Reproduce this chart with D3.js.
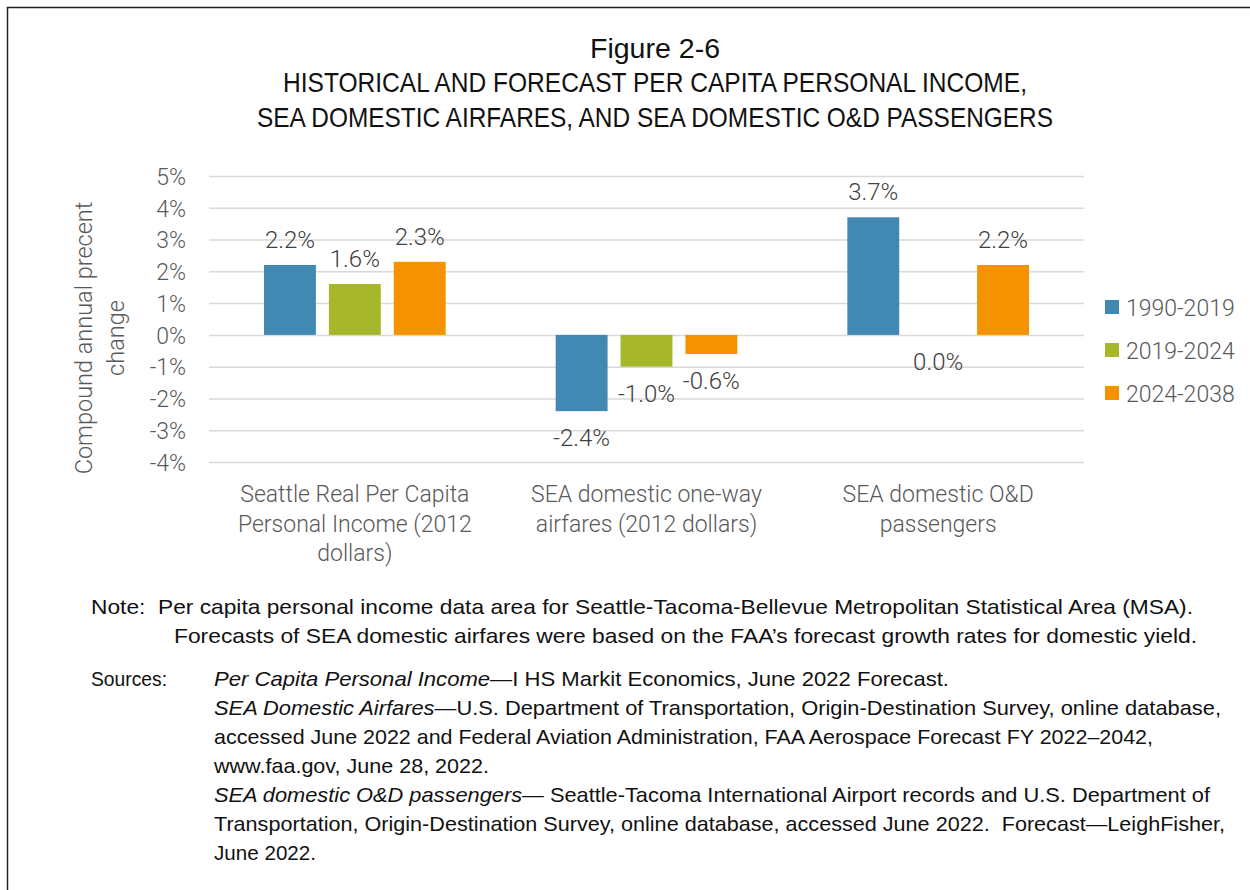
<!DOCTYPE html>
<html><head><meta charset="utf-8">
<script src="https://cdn.jsdelivr.net/npm/d3@7"></script>
<style>
html,body{margin:0;padding:0;background:#fff;}
svg{display:block;}
</style></head>
<body>
<svg id="chart" width="1250" height="890"></svg>
<script>
const categories = [
  ["Seattle Real Per Capita", "Personal Income (2012", "dollars)"],
  ["SEA domestic one-way", "airfares (2012 dollars)"],
  ["SEA domestic O&D", "passengers"]
];
const seriesNames = ["1990-2019", "2019-2024", "2024-2038"];
const s1990_2019 = [2.2, -2.4, 3.7];
const s2019_2024 = [1.6, -1.0, 0.0];
const s2024_2038 = [2.3, -0.6, 2.2];
const yTicks = [5, 4, 3, 2, 1, 0, -1, -2, -3, -4];
const colors = ["#4189B3", "#A6B829", "#F59200"];

const titleLines = ["Figure 2-6",
  "HISTORICAL AND FORECAST PER CAPITA PERSONAL INCOME,",
  "SEA DOMESTIC AIRFARES, AND SEA DOMESTIC O&D PASSENGERS"];

const seriesValues = [s1990_2019, s2019_2024, s2024_2038];

const svg = d3.select("#chart");
svg.append("rect").attr("x", 7.5).attr("y", 7.5).attr("width", 1300).attr("height", 1000)
  .attr("fill", "none").attr("stroke", "#222").attr("stroke-width", 1.5);

const narrow = "'Liberation Sans', Arial, sans-serif";
const chartFont = "Roboto, 'Open Sans', sans-serif";
const chartWeight = 300;

// title
const titleY = [58, 92, 127];
const titleW = [130, 744, 796];
titleLines.forEach((t, i) => {
  svg.append("text").attr("x", 655).attr("y", titleY[i]).attr("text-anchor", "middle")
    .attr("font-family", narrow).attr("font-size", 28).attr("fill", "#111")
    .attr("textLength", titleW[i]).attr("lengthAdjust", "spacingAndGlyphs")
    .text(t);
});

// scales
const x0 = d3.scaleBand().domain(d3.range(categories.length)).range([209, 1084]);
const x1 = d3.scaleBand().domain(d3.range(seriesNames.length)).range([55, x0.bandwidth() - 55]).paddingInner(0.2);
const y = d3.scaleLinear().domain([-4, 5]).range([462, 176]);

// grid + ticks
const yAxis = d3.axisLeft(y).tickValues(yTicks).tickSize(-(1084 - 209)).tickFormat(d => d + "%");
const gAxis = svg.append("g").attr("transform", "translate(209,0)").call(yAxis);
gAxis.select(".domain").remove();
gAxis.selectAll(".tick line").attr("stroke", "#d9d9d9").attr("stroke-width", 1.5);
gAxis.selectAll(".tick text").attr("x", -23).attr("dy", "0.36em").attr("font-family", chartFont)
  .attr("font-weight", chartWeight).attr("font-size", 23).attr("fill", "#595959");

// bars
const groups = svg.append("g").selectAll("g").data(categories).join("g")
  .attr("transform", (d, i) => `translate(${x0(i)},0)`);
groups.each(function (c, ci) {
  const g = d3.select(this);
  seriesValues.forEach((vals, si) => {
    const v = vals[ci];
    if (v !== 0) {
      g.append("rect").attr("x", x1(si)).attr("width", x1.bandwidth())
        .attr("y", y(Math.max(0, v))).attr("height", Math.abs(y(v) - y(0)))
        .attr("fill", colors[si]);
    }
    const ly = v > 0 ? y(v) - 17 : y(v) + 35;
    g.append("text").attr("x", x1(si) + x1.bandwidth() / 2).attr("y", ly)
      .attr("text-anchor", "middle").attr("font-family", chartFont).attr("font-weight", chartWeight)
      .attr("font-size", 24).attr("fill", "#404040").text(v.toFixed(1) + "%");
  });
});

// category labels
categories.forEach((lines, i) => {
  lines.forEach((l, j) => {
    svg.append("text").attr("x", x0(i) + x0.bandwidth() / 2).attr("y", 502 + j * 29.5)
      .attr("text-anchor", "middle").attr("font-family", chartFont).attr("font-weight", chartWeight)
      .attr("font-size", 23).attr("fill", "#595959").text(l);
  });
});

// y axis title
const yt = svg.append("text").attr("transform", "rotate(-90)")
  .attr("font-family", chartFont).attr("font-weight", chartWeight).attr("font-size", 23.5)
  .attr("fill", "#595959").attr("text-anchor", "middle");
yt.append("tspan").attr("x", -338).attr("y", 92).text("Compound annual precent");
yt.append("tspan").attr("x", -338).attr("y", 124).text("change");

// legend
const leg = svg.append("g").selectAll("g").data(seriesNames).join("g")
  .attr("transform", (d, i) => `translate(1105,${307 + i * 43})`);
leg.append("rect").attr("x", 0).attr("y", -7).attr("width", 14).attr("height", 14).attr("fill", (d, i) => colors[i]);
leg.append("text").attr("x", 21).attr("y", 8.5).attr("font-family", chartFont).attr("font-weight", chartWeight)
  .attr("font-size", 23).attr("fill", "#595959").text(d => d);

// notes
const notes = [
  {x: 91, y: 614, w: 1102, parts: [["Note:  Per capita personal income data area for Seattle-Tacoma-Bellevue Metropolitan Statistical Area (MSA).", false]]},
  {x: 174, y: 643, w: 1023, parts: [["Forecasts of SEA domestic airfares were based on the FAA\u2019s forecast growth rates for domestic yield.", false]]},
  {x: 91, y: 686, w: 76, parts: [["Sources:", false]]},
  {x: 214, y: 686, w: 735, parts: [["Per Capita Personal Income", true], ["\u2014I HS Markit Economics, June 2022 Forecast.", false]]},
  {x: 214, y: 715, w: 1007, parts: [["SEA Domestic Airfares", true], ["\u2014U.S. Department of Transportation, Origin-Destination Survey, online database,", false]]},
  {x: 214, y: 744, w: 939, parts: [["accessed June 2022 and Federal Aviation Administration, FAA Aerospace Forecast FY 2022\u20132042,", false]]},
  {x: 214, y: 773, w: 275, parts: [["www.faa.gov, June 28, 2022.", false]]},
  {x: 214, y: 802, w: 996, parts: [["SEA domestic O&D passengers", true], ["\u2014 Seattle-Tacoma International Airport records and U.S. Department of", false]]},
  {x: 214, y: 831, w: 1011, parts: [["Transportation, Origin-Destination Survey, online database, accessed June 2022.  Forecast\u2014LeighFisher,", false]]},
  {x: 214, y: 860, w: 102, parts: [["June 2022.", false]]}
];
notes.forEach(n => {
  const t = svg.append("text").attr("x", n.x).attr("y", n.y).attr("font-family", narrow)
    .attr("font-size", 21).attr("fill", "#111").style("white-space", "pre");
  n.parts.forEach(p => {
    t.append("tspan").attr("font-style", p[1] ? "italic" : "normal").text(p[0]);
  });
  t.attr("textLength", n.w).attr("lengthAdjust", "spacingAndGlyphs");
});
</script>
</body></html>
